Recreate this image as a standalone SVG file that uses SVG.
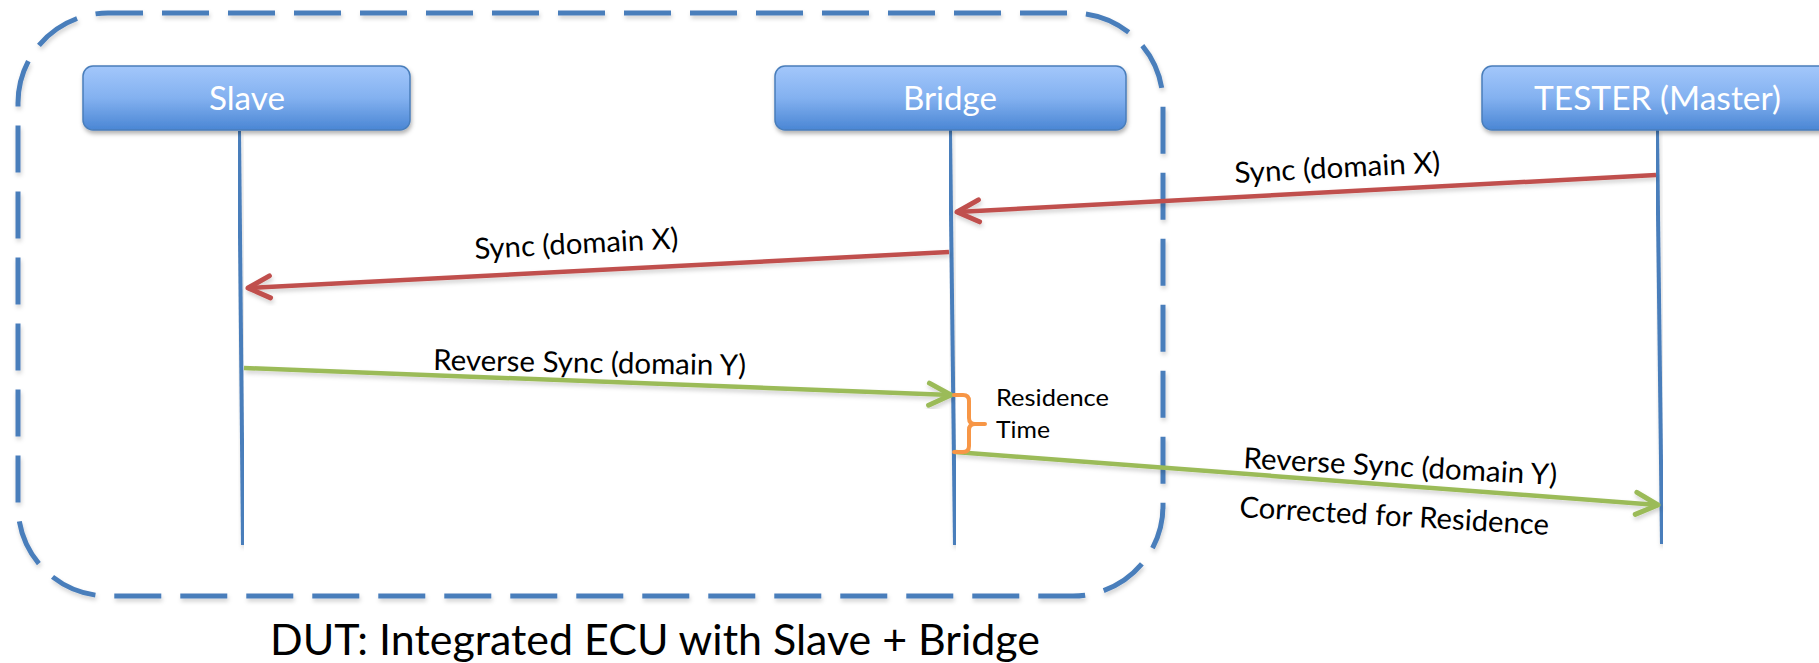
<svg xmlns="http://www.w3.org/2000/svg" width="1819" height="663" viewBox="0 0 1819 663">
<style>
  .lbl{font-family:Lato,"Liberation Sans",sans-serif;fill:#000;}
  .box{fill:url(#boxg);stroke:#4A7EBB;stroke-width:1.5;filter:url(#sh);}
  .boxt{font-family:Lato,"Liberation Sans",sans-serif;font-size:32px;fill:#fff;}
  .life{stroke:#4A7EBB;stroke-width:4;fill:none;}
  .red{stroke:#C0504D;stroke-width:4.5;fill:none;marker-end:url(#ar);}
  .grn{stroke:#9BBB59;stroke-width:4.5;fill:none;marker-end:url(#ag);}
</style>
<defs>
  <linearGradient id="boxg" x1="0" y1="0" x2="0" y2="1">
    <stop offset="0" stop-color="#A3C7FB"/>
    <stop offset="0.5" stop-color="#83B1F0"/>
    <stop offset="1" stop-color="#4A86D4"/>
  </linearGradient>
  <filter id="sh" x="-10%" y="-30%" width="120%" height="170%">
    <feDropShadow dx="1" dy="3" stdDeviation="2" flood-color="#000" flood-opacity="0.3"/>
  </filter>
  <filter id="lsh" x="-5%" y="-50%" width="110%" height="200%">
    <feDropShadow dx="1" dy="3" stdDeviation="2" flood-color="#000" flood-opacity="0.18"/>
  </filter>
  <marker id="ar" markerUnits="userSpaceOnUse" viewBox="-28 -15 32 30" markerWidth="32" markerHeight="30" refX="0" refY="0" orient="auto">
    <path d="M-22,-11 L0,0 L-22,11" fill="none" stroke="#C0504D" stroke-width="5" stroke-linecap="round" stroke-linejoin="round"/>
  </marker>
  <marker id="ag" markerUnits="userSpaceOnUse" viewBox="-28 -15 32 30" markerWidth="32" markerHeight="30" refX="0" refY="0" orient="auto">
    <path d="M-22,-11 L0,0 L-22,11" fill="none" stroke="#9BBB59" stroke-width="5" stroke-linecap="round" stroke-linejoin="round"/>
  </marker>
</defs>
<rect width="1819" height="663" fill="#fff"/>

<g id="dut">
  <rect x="18" y="13" width="1145" height="583" rx="90" ry="90" fill="none" stroke="#4A7EBB" stroke-width="5" stroke-dasharray="47 19" stroke-dashoffset="12" filter="url(#lsh)"/>
  <text class="lbl" x="270" y="655" font-size="42" textLength="770" lengthAdjust="spacingAndGlyphs">DUT: Integrated ECU with Slave + Bridge</text>
</g>

<g id="slave">
  <line class="life" x1="239" y1="131" x2="243" y2="545" filter="url(#lsh)"/>
  <rect class="box" x="83" y="66" width="327" height="64" rx="10"/>
  <text class="boxt" x="209" y="110" textLength="76" lengthAdjust="spacingAndGlyphs">Slave</text>
</g>

<g id="bridge">
  <line class="life" x1="950" y1="130" x2="955" y2="545" filter="url(#lsh)"/>
  <rect class="box" x="775" y="66" width="351" height="64" rx="10"/>
  <text class="boxt" x="903" y="110" textLength="94" lengthAdjust="spacingAndGlyphs">Bridge</text>
</g>

<g id="tester">
  <line class="life" x1="1657" y1="130" x2="1662" y2="544" filter="url(#lsh)"/>
  <rect class="box" x="1482" y="66" width="352" height="64" rx="10"/>
  <text class="boxt" x="1534" y="110" textLength="247" lengthAdjust="spacingAndGlyphs">TESTER (Master)</text>
</g>

<g id="connectors">
  <line class="red" x1="1656" y1="175" x2="957" y2="212" filter="url(#lsh)"/>
  <line class="red" x1="949" y1="252" x2="248" y2="288" filter="url(#lsh)"/>
  <line class="grn" x1="244" y1="368" x2="951" y2="395" filter="url(#lsh)"/>
  <line class="grn" x1="955" y1="452" x2="1658" y2="505" filter="url(#lsh)"/>
  <path d="M954,395 L963,395 Q969,395 969,401 L969,418 Q969,424 975,424 L985,424 M975,424 Q969,424 969,430 L969,446 Q969,452 963,452 L954,452" fill="none" stroke="#F79646" stroke-width="4" stroke-linecap="round"/>
</g>

<g id="labels">
  <text class="lbl" font-size="29" x="1235" y="183" transform="rotate(-3 1235 183)" textLength="206" lengthAdjust="spacingAndGlyphs">Sync (domain X)</text>
  <text class="lbl" font-size="29" x="475" y="259" transform="rotate(-3 475 259)" textLength="204" lengthAdjust="spacingAndGlyphs">Sync (domain X)</text>
  <text class="lbl" font-size="29" x="433" y="370" transform="rotate(1 433 370)" textLength="313" lengthAdjust="spacingAndGlyphs">Reverse Sync (domain Y)</text>
  <text class="lbl" font-size="29" x="1243" y="468" transform="rotate(3.1 1243 468)" textLength="314" lengthAdjust="spacingAndGlyphs">Reverse Sync (domain Y)</text>
  <text class="lbl" font-size="29" x="1239" y="517" transform="rotate(3.3 1239 517)" textLength="310" lengthAdjust="spacingAndGlyphs">Corrected for Residence</text>
  <text class="lbl" font-size="24" x="996" y="406" textLength="113" lengthAdjust="spacingAndGlyphs">Residence</text>
  <text class="lbl" font-size="24" x="996" y="438" textLength="54" lengthAdjust="spacingAndGlyphs">Time</text>
</g>
</svg>
